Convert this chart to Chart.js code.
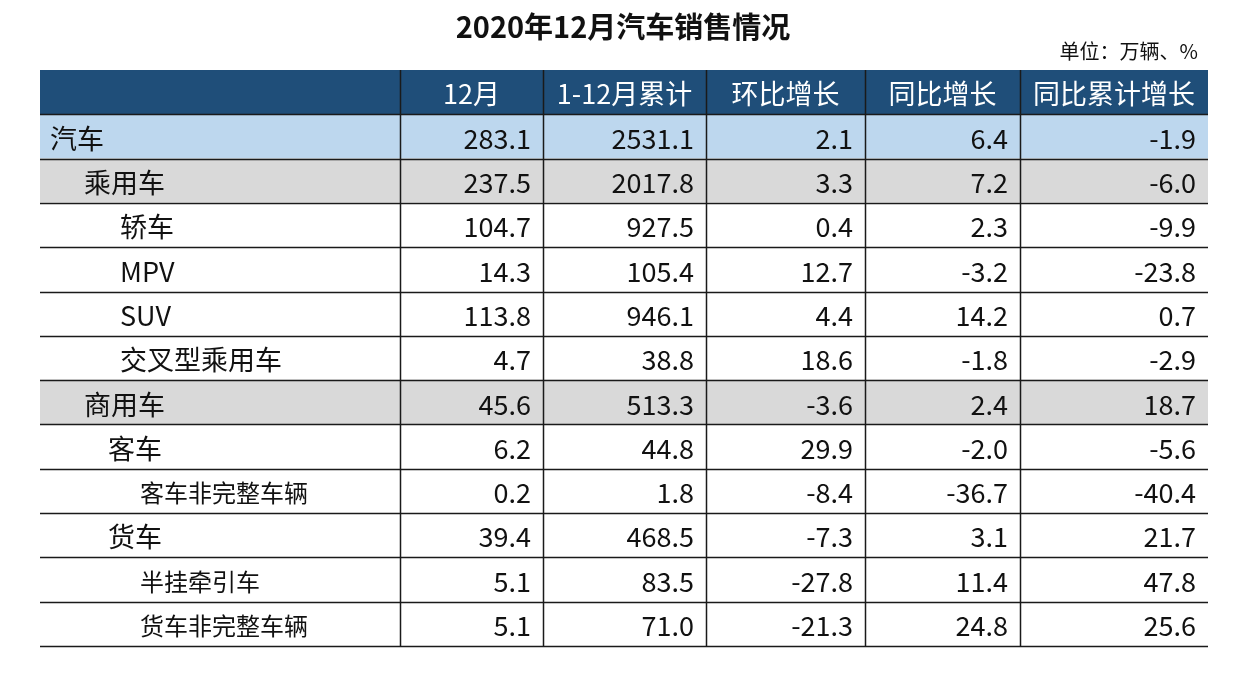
<!DOCTYPE html>
<html><head><meta charset="utf-8">
<script src="https://cdn.jsdelivr.net/npm/chart.js@4"></script>
<style>
body{margin:0;background:#fff;font-family:"Noto Sans CJK SC","Noto Sans",sans-serif}
#wrap{position:relative;width:1246px;height:673px}
#title{position:absolute;top:4px;left:0;width:1246px;text-align:center;font-size:29px;font-weight:bold;color:#111}
#unit{position:absolute;top:36px;right:48px;font-size:20px;color:#111}
</style></head><body>
<div id="wrap">
<div id="title">2020年12月汽车销售情况</div>
<div id="unit">单位：万辆、%</div>
<canvas id="tableChart" width="1246" height="673"></canvas>
</div>
<script>
const headers = ['', '12月', '1-12月累计', '环比增长', '同比增长', '同比累计增长'];
const rowNames = ['汽车', '乘用车', '轿车', 'MPV', 'SUV', '交叉型乘用车', '商用车', '客车', '客车非完整车辆', '货车', '半挂牵引车', '货车非完整车辆'];
const month = ['283.1', '237.5', '104.7', '14.3', '113.8', '4.7', '45.6', '6.2', '0.2', '39.4', '5.1', '5.1'];
const cumulative = ['2531.1', '2017.8', '927.5', '105.4', '946.1', '38.8', '513.3', '44.8', '1.8', '468.5', '83.5', '71.0'];
const mom = ['2.1', '3.3', '0.4', '12.7', '4.4', '18.6', '-3.6', '29.9', '-8.4', '-7.3', '-27.8', '-21.3'];
const yoy = ['6.4', '7.2', '2.3', '-3.2', '14.2', '-1.8', '2.4', '-2.0', '-36.7', '3.1', '11.4', '24.8'];
const yoyCum = ['-1.9', '-6.0', '-9.9', '-23.8', '0.7', '-2.9', '18.7', '-5.6', '-40.4', '21.7', '47.8', '25.6'];

// layout only
const colEdges = [0, 360, 503, 666, 825, 980, 1168];
const indent = [10, 44, 80, 80, 80, 80, 44, 68, 100, 68, 100, 100];
const rowBg = ['#BDD7EE', '#D9D9D9', '#fff', '#fff', '#fff', '#fff', '#D9D9D9', '#fff', '#fff', '#fff', '#fff', '#fff'];

const labels = ['header'].concat(rowNames);
const bgColors = ['#1F4E79'].concat(rowBg);

const tablePlugin = {
  id: 'tableText',
  afterDatasetsDraw(chart) {
    const c = chart.ctx, x = chart.scales.x, y = chart.scales.y;
    const top = y.getPixelForValue(0) - y.height / labels.length / 2;
    const rowH = y.height / labels.length;
    const bottom = top + rowH * labels.length;
    c.save();
    c.strokeStyle = '#1a1a1a'; c.lineWidth = 1.5;
    // horizontal lines
    for (let i = 1; i <= labels.length; i++) {
      const py = Math.round(top + rowH * i) + 0.5;
      c.beginPath(); c.moveTo(x.getPixelForValue(0), py); c.lineTo(x.getPixelForValue(1168), py); c.stroke();
    }
    // inner vertical lines
    colEdges.forEach((e, k) => {
      if (k === 0 || k === colEdges.length - 1) return;
      const px = Math.round(x.getPixelForValue(e)) + 0.5;
      c.beginPath(); c.moveTo(px, top); c.lineTo(px, bottom); c.stroke();
    });
    c.textBaseline = 'middle';
    // header
    c.fillStyle = '#fff'; c.font = '27px "Noto Sans CJK SC"'; c.textAlign = 'center';
    for (let k = 1; k < headers.length; k++) {
      c.fillText(headers[k], x.getPixelForValue((colEdges[k] + colEdges[k + 1]) / 2), y.getPixelForValue(0) + 2);
    }
    const cols = [month, cumulative, mom, yoy, yoyCum];
    c.fillStyle = '#111';
    rowNames.forEach((n, i) => {
      const py = y.getPixelForValue(i + 1) + 2;
      c.textAlign = 'left';
      c.font = (indent[i] >= 100 ? '24px' : '27px') + ' "Noto Sans CJK SC"';
      c.fillText(n, x.getPixelForValue(indent[i]), py);
      c.textAlign = 'right'; c.font = '27px "Noto Sans CJK SC"';
      cols.forEach((arr, k) => c.fillText(arr[i], x.getPixelForValue(colEdges[k + 2]) - 12, py));
    });
    c.restore();
  }
};

new Chart(document.getElementById('tableChart'), {
  type: 'bar',
  data: {
    labels: labels,
    datasets: [{
      data: labels.map(() => [0, 1168]),
      backgroundColor: bgColors,
      barPercentage: 1,
      categoryPercentage: 1,
      borderWidth: 0
    }]
  },
  options: {
    indexAxis: 'y',
    responsive: false,
    animation: false,
    layout: { padding: { left: 40, right: 38, top: 70, bottom: 27 } },
    plugins: { legend: { display: false }, tooltip: { enabled: false } },
    scales: {
      x: { type: 'linear', min: 0, max: 1168, display: false },
      y: { display: false }
    }
  },
  plugins: [tablePlugin]
});
</script>
</body></html>
